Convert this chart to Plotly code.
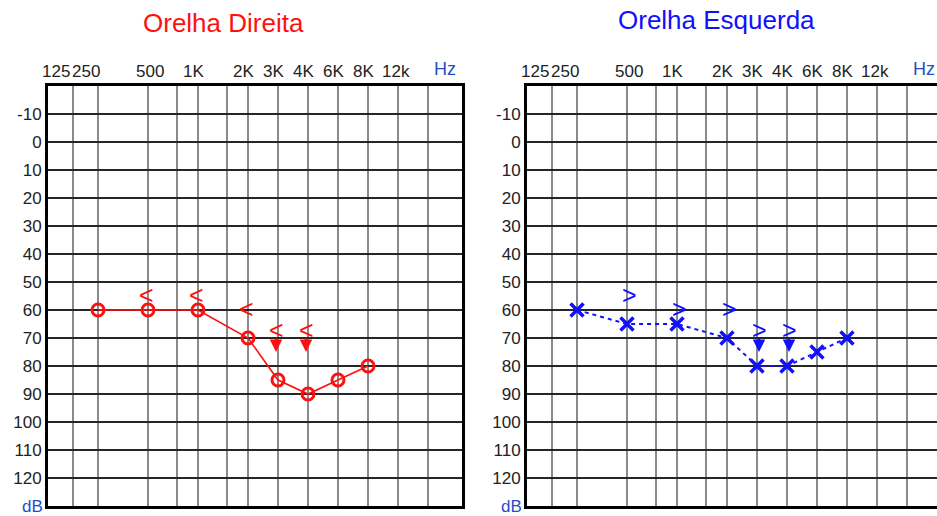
import numpy as np
import plotly.graph_objects as go

# ---------------- data ----------------
FREQ_LABELS = ["125", "250", "500", "1K", "2K", "3K", "4K", "6K", "8K", "12k"]
LABEL_FREQS = [125, 250, 500, 1000, 2000, 3000, 4000, 6000, 8000, 12000]
GRID_FREQS = [125, 250, 500, 750, 1000, 1500, 2000, 3000, 4000, 6000, 8000, 12000, 16000]
DB_TICKS = [-10, 0, 10, 20, 30, 40, 50, 60, 70, 80, 90, 100, 110, 120]

AIR_FREQS = [250, 500, 1000, 2000, 3000, 4000, 6000, 8000]
RIGHT_EAR_AIR = [60, 60, 60, 70, 85, 90, 85, 80]
LEFT_EAR_AIR = [60, 65, 65, 70, 80, 80, 75, 70]

BONE_FREQS = [500, 1000, 2000, 3000, 4000]
RIGHT_EAR_BONE = [55, 55, 60, 70, 70]
LEFT_EAR_BONE = [55, 60, 60, 70, 70]
BONE_NO_RESPONSE = [False, False, False, True, True]

# ---------------- audiogram frequency scale ----------------
HIGH_STEPS = [2000, 3000, 4000, 6000, 8000, 12000, 16000]


def hz_to_axis(f):
    """Audiometer frequency scale: octave spacing up to 2 kHz, equal steps above."""
    f = np.asarray(f, dtype=float)
    low = np.where(f <= 250, f / 250.0, 1 + np.log2(np.maximum(f, 1) / 250.0))
    high = 4 + 0.6 * np.interp(np.log2(f), np.log2(HIGH_STEPS), np.arange(len(HIGH_STEPS)))
    return np.where(f <= 2000, low, high)


W, H = 937, 516
RED = "#ff1010"
BLUE = "#1010ff"
AXBLUE = "#1f4fc8"
TICK_FONT = dict(family="Liberation Sans, Arial, sans-serif", size=17, color="#222222")
TITLE_FONT = "Liberation Sans, Arial, sans-serif"

fig = go.Figure()

fig.add_trace(go.Scatter(
    x=hz_to_axis(AIR_FREQS), y=RIGHT_EAR_AIR, mode="lines+markers",
    line=dict(color=RED, width=1.6),
    marker=dict(symbol="circle-open", size=12, color=RED, line=dict(width=3, color=RED)),
    xaxis="x", yaxis="y", showlegend=False, hoverinfo="skip"))

fig.add_trace(go.Scatter(
    x=hz_to_axis(AIR_FREQS), y=LEFT_EAR_AIR, mode="lines+markers",
    line=dict(color=BLUE, width=2, dash="4px,4px"),
    marker=dict(symbol="x-thin", size=13, color=BLUE, line=dict(width=3.5, color=BLUE)),
    xaxis="x2", yaxis="y2", showlegend=False, hoverinfo="skip"))

annotations = []

# bone conduction symbols (with down arrow when there is no response)
for xref, yref, vals, glyph, color, dx in (
        ("x", "y", RIGHT_EAR_BONE, "<", RED, -2),
        ("x2", "y2", LEFT_EAR_BONE, ">", BLUE, 2)):
    for f, v, nr in zip(BONE_FREQS, vals, BONE_NO_RESPONSE):
        a = dict(x=float(hz_to_axis(f)), y=v, xref=xref, yref=yref, text=glyph,
                 font=dict(family="Liberation Sans", size=25, color=color),
                 xshift=dx)
        if nr:
            a.update(showarrow=True, ax=0, ay=-22, height=14, arrowhead=2, arrowsize=1,
                     arrowwidth=2.5, arrowcolor=color, yshift=-14)
        else:
            a.update(showarrow=False, yshift=1)
        annotations.append(a)

# frequency labels on top
LABEL_NUDGE = {125: -17, 250: -12, 500: 2, 12000: -2}
for xref, yr in (("x", "y"), ("x2", "y2")):
    for f, lab in zip(LABEL_FREQS, FREQ_LABELS):
        annotations.append(dict(
            x=float(hz_to_axis(f)), y=1, xref=xref, yref=yr + " domain",
            text=lab, showarrow=False, yanchor="bottom", yshift=3,
            xshift=LABEL_NUDGE.get(f, -5), font=TICK_FONT))
    annotations.append(dict(
        x=8.2, y=1, xref=xref, yref=yr + " domain",
        text="Hz", showarrow=False, xanchor="right", yanchor="bottom", yshift=5,
        font=dict(family=TICK_FONT["family"], size=18, color=AXBLUE)))
    annotations.append(dict(
        x=0, y=130, xref=xref + " domain", yref=yr,
        text="dB", showarrow=False, xanchor="right", yanchor="middle", xshift=-3,
        font=dict(family=TICK_FONT["family"], size=17, color=AXBLUE)))

annotations.append(dict(x=223 / W, y=1 - 23 / H, xref="paper", yref="paper", text="Orelha Direita",
                        xanchor="center", yanchor="middle",
                        showarrow=False, font=dict(family=TITLE_FONT, size=26, color=RED)))
annotations.append(dict(x=716 / W, y=1 - 20 / H, xref="paper", yref="paper", text="Orelha Esquerda",
                        xanchor="center", yanchor="middle",
                        showarrow=False, font=dict(family=TITLE_FONT, size=26, color=BLUE)))

xcommon = dict(tickvals=hz_to_axis(GRID_FREQS).tolist(), showticklabels=False, ticks="",
               showgrid=True, gridcolor="#8a8a8a", gridwidth=2, zeroline=False,
               showline=True, linecolor="black", linewidth=3, mirror=True, fixedrange=True)
ycommon = dict(range=[130, -20], tickvals=DB_TICKS, ticktext=[str(v) for v in DB_TICKS], ticks="",
               showgrid=True, gridcolor="#262626", gridwidth=2, zeroline=False,
               showline=True, linecolor="black", linewidth=3, tickfont=TICK_FONT,
               fixedrange=True)

ydom = [10 / H, 430 / H]
fig.update_layout(
    width=W, height=H, margin=dict(l=0, r=0, t=0, b=0),
    paper_bgcolor="white", plot_bgcolor="white",
    xaxis=dict(domain=[48 / W, 462 / W], range=[0, 8.28], anchor="y", **xcommon),
    yaxis=dict(domain=ydom, anchor="x", mirror=True, **ycommon),
    xaxis2=dict(domain=[527 / W, 1.0], range=[0, 8.2], anchor="y2", **xcommon),
    yaxis2=dict(domain=ydom, anchor="x2", mirror=False, **ycommon),
    annotations=annotations,
)

fig.write_html("out.html")
